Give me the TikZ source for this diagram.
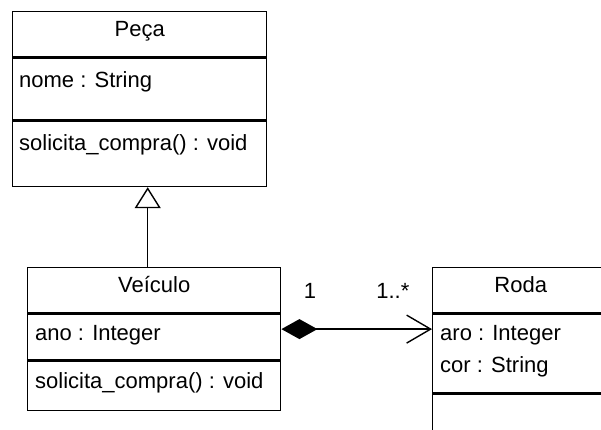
\documentclass[tikz,border=0pt]{standalone}
\usepackage{fontspec}
\setmainfont{Liberation Sans}
\usetikzlibrary{positioning,arrows.meta}

\tikzset{
  compart/.style={draw, line width=1.4pt, anchor=north west, inner sep=0pt},
  classname/.style={compart, minimum height=45pt, text height=16pt, text depth=11pt},
  member/.style={inner sep=0pt, align=left},
  mult/.style={inner sep=0pt}
}

\begin{document}
\begin{tikzpicture}[x=1pt, y=-1pt, font=\fontsize{22}{32}\selectfont]
            \useasboundingbox (0,0) rectangle (601,429);
            \clip (0,0) rectangle (601,429);

            % Peca
            \node[classname, minimum width=254pt] (pecaname) at (12,11) {Peça};
            \node[compart, minimum width=254pt, minimum height=62pt] (pecaattr) at (pecaname.south west) {};
            \node[compart, minimum width=254pt, minimum height=65pt] (pecaops) at (pecaattr.south west) {};
            \node[member, below right=14pt and 7pt of pecaattr.north west] (pecanome) {nome : String};
            \node[member, below right=14pt and 7pt of pecaops.north west] (pecasolicita) {solicita\_compra() : void};

            % Veiculo
            \node[classname, minimum width=253pt] (veicname) at (27,267) {Veículo};
            \node[compart, minimum width=253pt, minimum height=46pt] (veicattr) at (veicname.south west) {};
            \node[compart, minimum width=253pt, minimum height=49pt] (veicops) at (veicattr.south west) {};
            \node[member, below right=12pt and 8pt of veicattr.north west] (veicano) {ano : Integer};
            \node[member, below right=12pt and 8pt of veicops.north west] (veicsolicita) {solicita\_compra() : void};

            % Roda
            \node[classname, minimum width=176pt] (rodaname) at (432,267) {Roda};
            \node[compart, minimum width=176pt, minimum height=79pt] (rodaattr) at (rodaname.south west) {};
            \node[compart, minimum width=176pt, minimum height=60pt] (rodaops) at (rodaattr.south west) {};
            \node[member, below right=12pt and 8pt of rodaattr.north west] (rodaaro) {aro : Integer\\cor : String};

            % heranca
            \draw[line width=1.4pt, -{Triangle[open, length=21pt, width=26pt]}]
                ([xshift=-6.5pt]veicname.north) -- ([xshift=-6.5pt]veicname.north |- pecaops.south);

            % composicao
            \draw[line width=1.4pt, {Diamond[length=36pt, width=20pt]}-{Straight Barb[length=24pt, width=28pt]}]
                ([yshift=8pt]veicattr.east) -- ([yshift=8pt]veicattr.east -| rodaattr.west)
                node[mult, pos=0.19, above=30pt] (multum) {1}
                node[mult, pos=0.74, above=30pt] (multmuitos) {1..*};
        \end{tikzpicture}
\end{document}
